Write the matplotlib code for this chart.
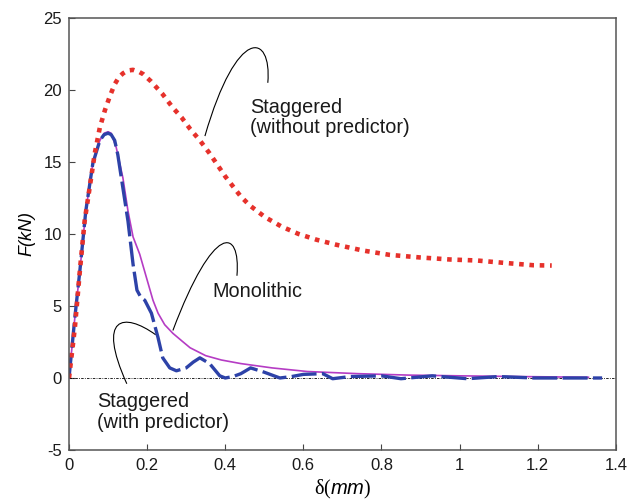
import numpy as np
import matplotlib
matplotlib.use('Agg')
import matplotlib.pyplot as plt
from matplotlib.path import Path
from matplotlib.patches import PathPatch

plt.rcParams['font.family'] = ['Liberation Sans', 'DejaVu Sans']
plt.rcParams['axes.unicode_minus'] = False
plt.rcParams['mathtext.fontset'] = 'custom'
plt.rcParams['mathtext.rm'] = 'Liberation Serif'
plt.rcParams['mathtext.it'] = 'Liberation Sans:italic'

# Staggered scheme without predictor
d_nopred = [0, 0.015, 0.028, 0.04, 0.053, 0.066, 0.079, 0.092, 0.105, 0.117, 0.128,
            0.138, 0.15, 0.164, 0.18, 0.19, 0.21, 0.24, 0.265, 0.288, 0.31, 0.335,
            0.36, 0.38, 0.40, 0.42, 0.44, 0.463, 0.502, 0.544, 0.587, 0.634, 0.685,
            0.753, 0.821, 0.899, 0.975, 1.044, 1.112, 1.189, 1.236]
f_nopred = [0, 3.5, 7.5, 10.9, 13.25, 15.6, 17.4, 18.6, 19.6, 20.4, 20.9,
            21.15, 21.35, 21.4, 21.25, 21.1, 20.6, 19.7, 18.8, 18.1, 17.3, 16.5,
            15.6, 14.8, 14.0, 13.3, 12.6, 11.98, 11.17, 10.52, 10.01, 9.6, 9.25,
            8.85, 8.55, 8.37, 8.23, 8.16, 8.0, 7.83, 7.81]

# Staggered scheme with predictor
d_pred = [0, 0.015, 0.028, 0.043, 0.061, 0.079, 0.09, 0.1, 0.108, 0.117, 0.125,
          0.134, 0.151, 0.164, 0.174, 0.184, 0.194, 0.211, 0.228, 0.24, 0.258,
          0.275, 0.3, 0.318, 0.335, 0.36, 0.386, 0.4, 0.42, 0.44, 0.465, 0.5,
          0.54, 0.57, 0.6, 0.65, 0.675, 0.72, 0.8, 0.85, 0.93, 1.02, 1.1, 1.19,
          1.27, 1.365]
f_pred = [0, 4.2, 7.5, 11.6, 14.9, 16.5, 16.9, 17.0, 16.9, 16.5, 15.5,
          13.9, 10.9, 7.9, 6.1, 5.6, 5.4, 4.5, 2.8, 1.4, 0.7,
          0.5, 0.7, 1.1, 1.4, 1.0, 0.15, 0.0, 0.1, 0.3, 0.7, 0.4,
          0.0, 0.1, 0.25, 0.3, -0.05, 0.1, 0.15, -0.05, 0.15, -0.05, 0.1, 0.0,
          0.0, 0.0]

# Monolithic scheme
d_mono = [0, 0.015, 0.028, 0.043, 0.061, 0.079, 0.09, 0.1, 0.108, 0.121, 0.138,
          0.151, 0.164, 0.181, 0.198, 0.215, 0.228, 0.245, 0.266, 0.29, 0.31,
          0.35, 0.39, 0.44, 0.52, 0.61, 0.74, 0.87, 1.0, 1.15, 1.33]
f_mono = [0, 4.2, 7.5, 11.6, 14.9, 16.5, 17.0, 17.1, 17.0, 16.0, 13.9,
          11.6, 9.8, 8.6, 7.0, 5.4, 4.5, 3.7, 3.1, 2.55, 2.1,
          1.55, 1.25, 1.0, 0.7, 0.45, 0.3, 0.2, 0.15, 0.1, 0.05]

x_ticks = [0, 0.2, 0.4, 0.6, 0.8, 1, 1.2, 1.4]
x_labels = ['0', '0.2', '0.4', '0.6', '0.8', '1', '1.2', '1.4']
y_ticks = [-5, 0, 5, 10, 15, 20, 25]

fig = plt.figure(figsize=(6.29, 5.03), dpi=100)
ax = fig.add_axes([0.1097, 0.1054, 0.8693, 0.8588])

ax.plot([0, 1.4], [0, 0], color='black', lw=0.6, dashes=(3, 1.5, 1, 1.5))
ax.plot(d_mono, f_mono, color='#b53cc4', lw=1.2)
ax.plot(d_pred, f_pred, color='#2d42a8', lw=2.4, dashes=(7.5, 1.6))
ax.plot(d_nopred, f_nopred, color='#e6312b', lw=3.3, dashes=(1, 1.25))

# curved leader lines for the labels
leaders = [
    [(0.348, 16.8), (0.43, 24.5), (0.52, 24.0), (0.509, 20.5)],
    [(0.266, 3.3), (0.37, 10.8), (0.44, 10.5), (0.43, 7.1)],
    [(0.222, 3.0), (0.14, 4.6), (0.07, 4.3), (0.148, -0.4)],
]
codes = [Path.MOVETO, Path.CURVE4, Path.CURVE4, Path.CURVE4]
for pts in leaders:
    ax.add_patch(PathPatch(Path(pts, codes), fill=False, lw=0.8, color='black'))

ax.text(0.463, 18.1, 'Staggered\n(without predictor)', fontsize=14.3,
        va='center', ha='left', color='#1a1a1a', linespacing=1.1)
ax.text(0.366, 5.6, 'Monolithic', fontsize=14.3, va='baseline', ha='left',
        color='#1a1a1a')
ax.text(0.071, -2.35, 'Staggered\n(with predictor)', fontsize=14.3,
        va='center', ha='left', color='#1a1a1a', linespacing=1.1)

ax.set_xlim(0, 1.4)
ax.set_ylim(-5, 25)
ax.set_xticks(x_ticks)
ax.set_xticklabels(x_labels)
ax.set_yticks(y_ticks)
ax.tick_params(direction='in', length=4, width=0.8, labelsize=12,
               colors='#444444', labelcolor='#1a1a1a')
ax.tick_params(axis='x', pad=6)
ax.tick_params(axis='y', pad=5)
for s in ax.spines.values():
    s.set_color('#555555')
    s.set_linewidth(1.1)

ax.set_xlabel(r'$\mathrm{\delta}\mathit{(mm)}$', fontsize=14.5, labelpad=3.5)
ax.set_ylabel('F(kN)', fontsize=13, style='italic', labelpad=6)

fig.savefig('out.png', dpi=100)
